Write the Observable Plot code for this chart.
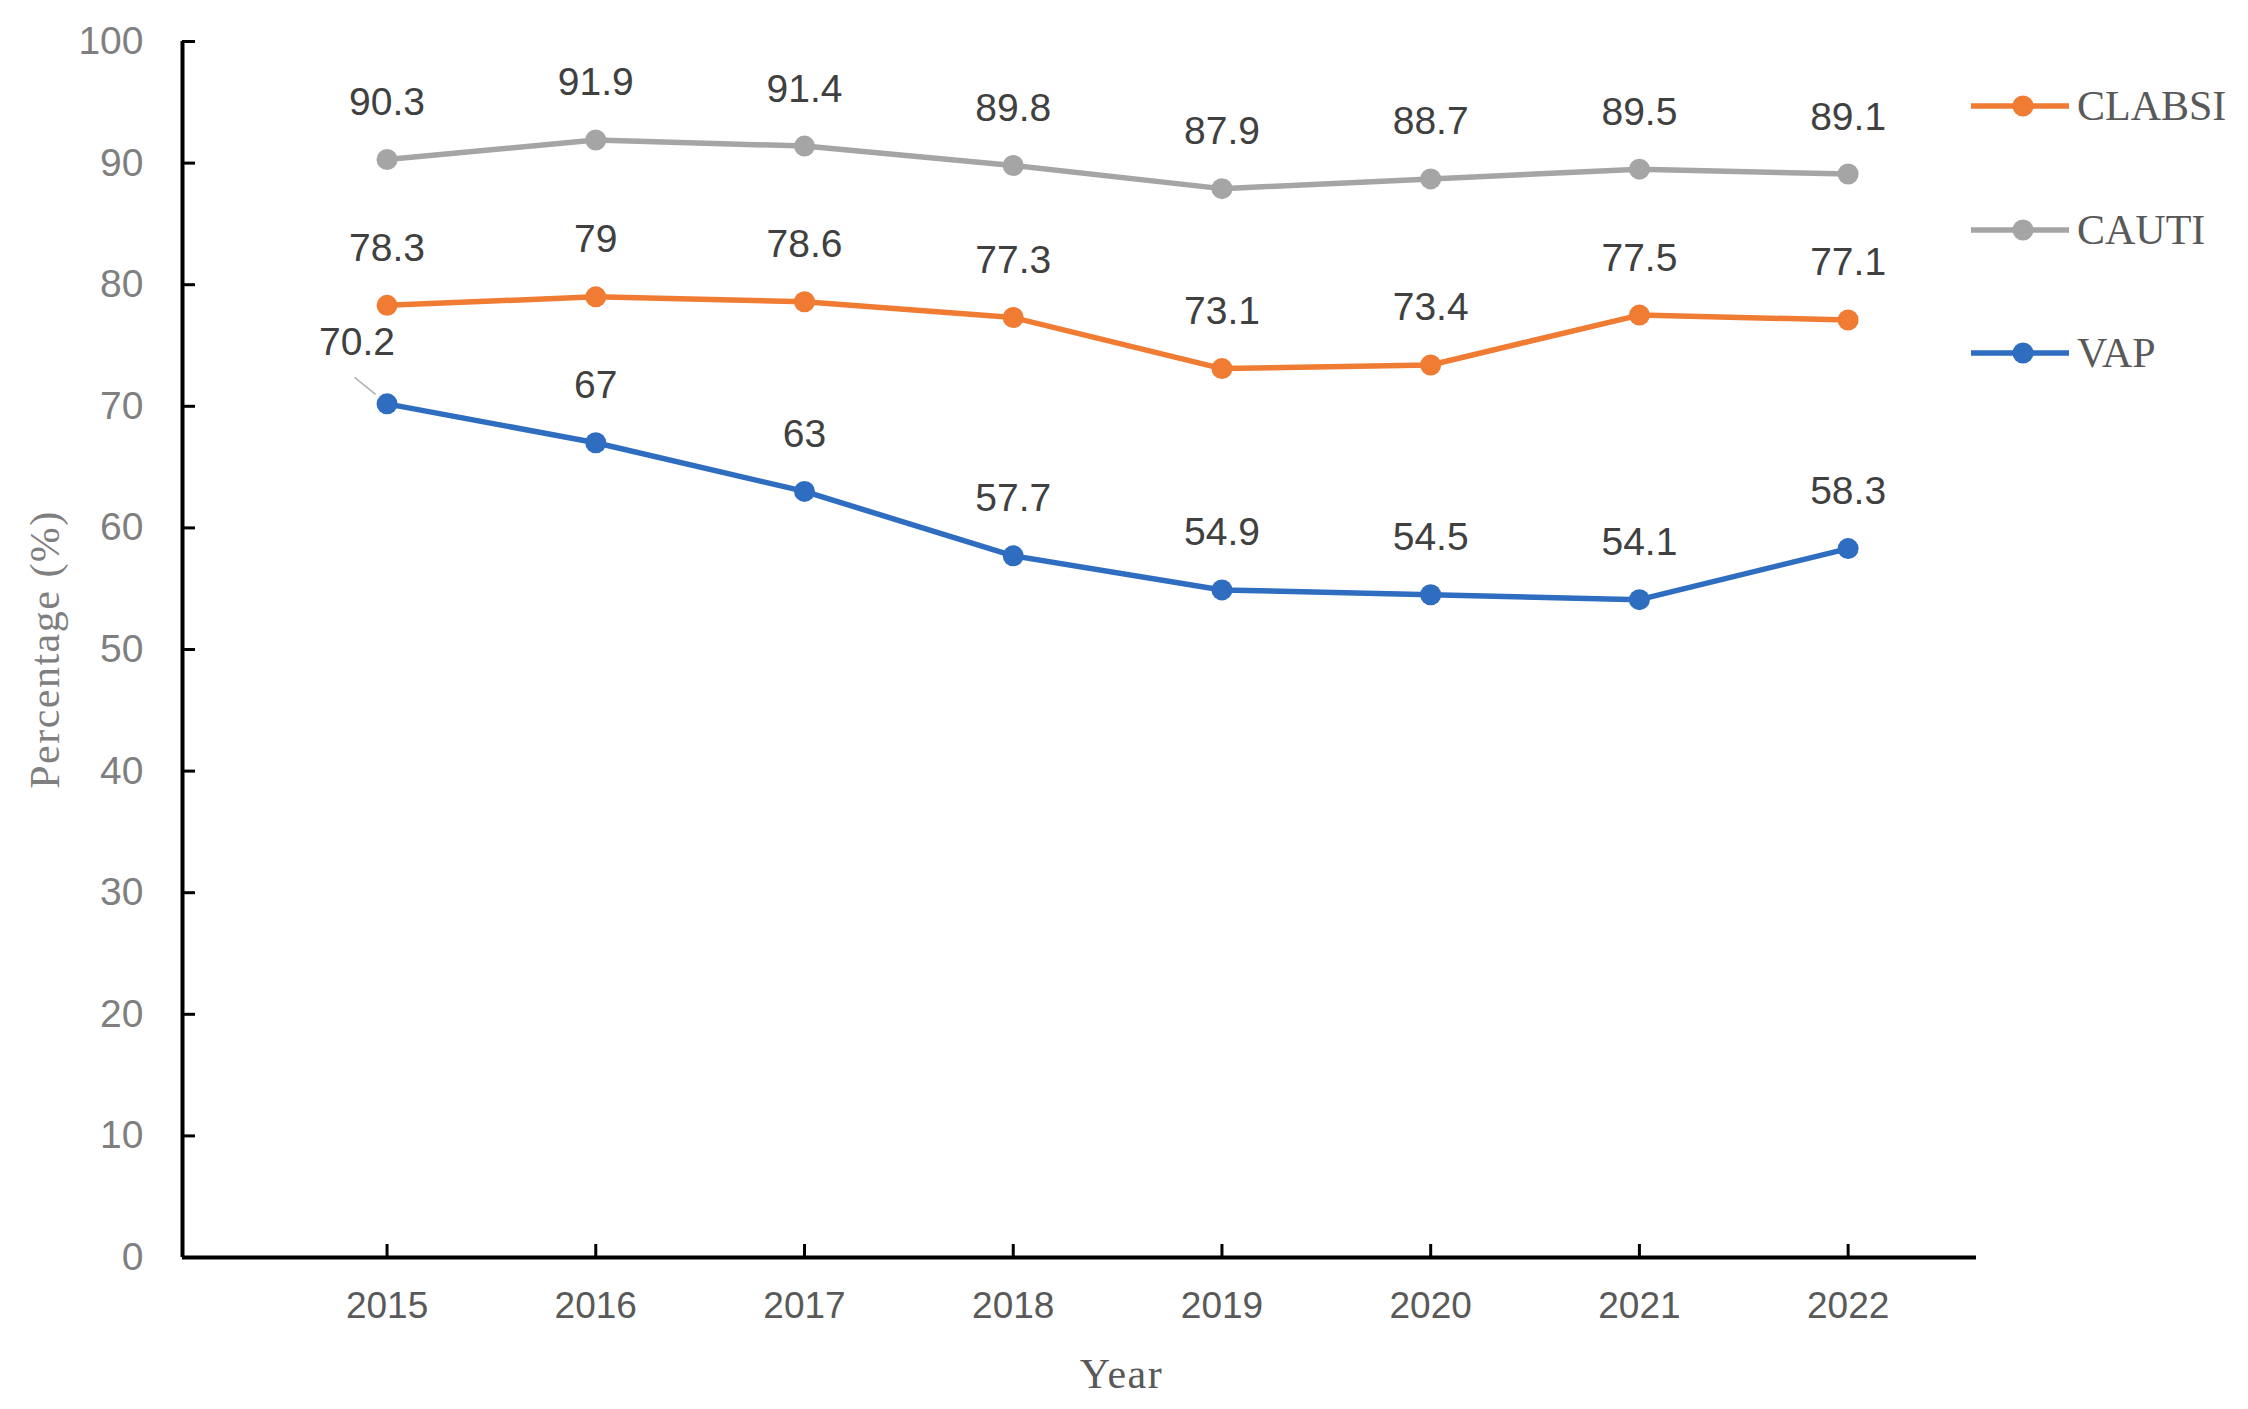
<!DOCTYPE html>
<html>
<head>
<meta charset="utf-8">
<script src="https://cdn.jsdelivr.net/npm/d3@7"></script>
<script src="https://cdn.jsdelivr.net/npm/@observablehq/plot@0.6"></script>
<style>
  html, body { margin: 0; padding: 0; background: #fff; }
  #wrap { position: relative; width: 2248px; height: 1409px; }
  #wrap svg { display: block; }
  g[aria-label="y-axis tick label"] text { fill: #7f7f7f; }
  g[aria-label="x-axis tick label"] text { fill: #595959; }
  .axis-title text { letter-spacing: 1.5px; }
  .legend { position: absolute; left: 0; top: 0; }
  .legend .item { position: absolute; left: 1971px; height: 40px; display: flex; align-items: center; }
  .legend .item span { font-family: "Liberation Serif", "DejaVu Serif", serif; font-size: 42px; color: #595959; margin-left: 8px; line-height: 40px; }
</style>
</head>
<body>
<div id="wrap"></div>
<script>
const years = [2015, 2016, 2017, 2018, 2019, 2020, 2021, 2022];
const seriesNames = ["CLABSI", "CAUTI", "VAP"];
const clabsi = [78.3, 79, 78.6, 77.3, 73.1, 73.4, 77.5, 77.1];
const cauti = [90.3, 91.9, 91.4, 89.8, 87.9, 88.7, 89.5, 89.1];
const vap = [70.2, 67, 63, 57.7, 54.9, 54.5, 54.1, 58.3];
const colors = ["#F07B33", "#A5A5A5", "#2E6DC0"];
const yTicks = [0, 10, 20, 30, 40, 50, 60, 70, 80, 90, 100];

const valuesBySeries = [clabsi, cauti, vap];
const rows = [];
seriesNames.forEach((s, i) => {
  years.forEach((yr, j) => rows.push({series: s, year: yr, value: valuesBySeries[i][j]}));
});
const isLeader = d => d.series === "VAP" && d.year === 2015;

const font = "'Liberation Sans', Arial, sans-serif";

const chart = Plot.plot({
  width: 2248,
  height: 1409,
  marginLeft: 182,
  marginRight: 272,
  marginTop: 41,
  marginBottom: 152,
  style: {fontFamily: font, fontSize: "39px", background: "#fff"},
  x: {type: "linear", domain: [years[0] - 0.98, years[years.length - 1] + 0.615]},
  y: {domain: [0, 100]},
  color: {domain: seriesNames, range: colors},
  marks: [
    Plot.axisY(yTicks, {tickSize: 0, tickPadding: 39, label: null, fontSize: 39}),
    Plot.axisY(yTicks, {tickSize: -13, tickFormat: () => "", label: null, strokeWidth: 3, stroke: "#000"}),
    Plot.axisX(years, {tickSize: 0, tickPadding: 34, tickFormat: d => String(d), label: null, fontSize: 37}),
    Plot.axisX(years, {tickSize: -13, tickFormat: () => "", label: null, strokeWidth: 3, stroke: "#000"}),
    Plot.ruleX([years[0] - 0.98], {stroke: "#000", strokeWidth: 4}),
    Plot.ruleY([0], {stroke: "#000", strokeWidth: 4}),
    Plot.line(rows, {x: "year", y: "value", z: "series", stroke: "series", strokeWidth: 5.5}),
    Plot.dot(rows, {x: "year", y: "value", fill: "series", r: 10.5}),
    Plot.text(rows.filter(d => !isLeader(d)), {x: "year", y: "value", text: d => String(d.value), dy: -57, fill: "#404040", fontSize: 39}),
    Plot.text(rows.filter(isLeader), {x: "year", y: "value", text: d => String(d.value), dx: -30, dy: -61, fill: "#404040", fontSize: 39}),
    Plot.text(["Percentage (%)"], {frameAnchor: "left", textAnchor: "middle", rotate: -90, dx: -137, fill: "#7f7f7f", fontSize: 42, fontFamily: "'Liberation Serif', serif", className: "axis-title"}),
    Plot.text(["Year"], {frameAnchor: "bottom", dx: 42, dy: 130, fill: "#595959", fontSize: 42, fontFamily: "'Liberation Serif', serif", className: "axis-title"})
  ]
});

const wrap = document.getElementById("wrap");
wrap.appendChild(chart);

// leader line for the moved 70.2 label
const sx = chart.scale("x"), sy = chart.scale("y");
rows.filter(isLeader).forEach(d => {
  const px = sx.apply(d.year), py = sy.apply(d.value);
  d3.select(chart).append("line")
    .attr("x1", px - 11).attr("y1", py - 9)
    .attr("x2", px - 32).attr("y2", py - 26)
    .attr("stroke", "#b0b0b0").attr("stroke-width", 1.5);
});

// legend
const legend = document.createElement("div");
legend.className = "legend";
const legendTops = [106, 230, 353];
seriesNames.forEach((s, i) => {
  const item = document.createElement("div");
  item.className = "item";
  item.style.top = (legendTops[i] - 20) + "px";
  item.innerHTML = `<svg width="98" height="40"><line x1="0" y1="20" x2="98" y2="20" stroke="${colors[i]}" stroke-width="5.5"/><circle cx="52" cy="20" r="10.5" fill="${colors[i]}"/></svg><span>${s}</span>`;
  legend.appendChild(item);
});
wrap.appendChild(legend);
</script>
</body>
</html>
